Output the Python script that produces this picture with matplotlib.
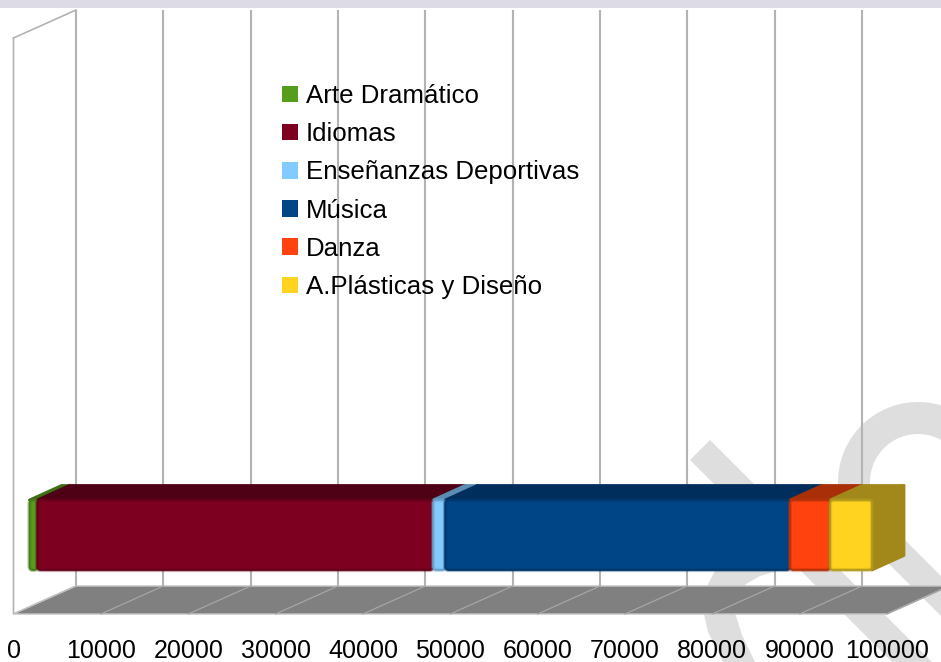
import matplotlib
matplotlib.use("Agg")
import matplotlib.pyplot as plt
from matplotlib.patches import Polygon, Rectangle, Wedge, FancyBboxPatch, Patch
from matplotlib.transforms import Affine2D

plt.rcParams['font.family'] = ['Liberation Sans', 'DejaVu Sans']

categories = ['Arte Dramático', 'Idiomas', 'Enseñanzas Deportivas', 'Música', 'Danza', 'A.Plásticas y Diseño']
values = [900, 45300, 1400, 39450, 4600, 4800]
front_colors = ['#579d1c', '#7e0021', '#83caff', '#004586', '#ff420e', '#ffd320']
edge_colors = ['#467e16', '#65001a', '#69a2cc', '#00376b', '#b5330a', '#b39a1c']
top_colors = ['#3f7014', '#4e0014', '#5b8db3', '#002e5c', '#a92f08', '#a2881a']
ticks = list(range(0, 100001, 10000))

W, H = 941, 662
fig = plt.figure(figsize=(W / 100, H / 100), dpi=100, facecolor='white')

# page furniture drawn in pixel coordinates (y down)
px = Affine2D().scale(1, -1).translate(0, H)
GREY = '#dedede'
fig.add_artist(Rectangle((0, 0), W, 8, transform=px, fc='#dcdbe6', ec='none', zorder=0))
fig.add_artist(Polygon([(690, 460), (710, 440), (960, 690), (920, 690)], transform=px, fc=GREY, ec='none', zorder=0))
fig.add_artist(Polygon([(835, 510), (875, 510), (960, 595), (960, 635)], transform=px, fc=GREY, ec='none', zorder=0))
fig.add_artist(Wedge((918, 482), 80, 150, 360, width=32, transform=px, fc=GREY, ec='none', zorder=0))
fig.add_artist(Polygon([(780, 540), (745, 543), (718, 565), (705, 590), (703, 610), (708, 632), (723, 662),
                        (755, 662), (742, 635), (735, 613), (737, 598), (746, 584), (760, 576), (780, 570)],
                       transform=px, fc=GREY, ec='none', zorder=0))

# axes: x spans the front floor edge, y in pixels above it
FL, FR, FY, TOPY = 13.5, 887.0, 614.0, 10.0
ax = fig.add_axes([FL / W, (H - FY) / H, (FR - FL) / W, (FY - TOPY) / H])
ax.set_xlim(0, 100000)
ax.set_ylim(0, FY - TOPY)
ax.patch.set_visible(False)
for s in ax.spines.values():
    s.set_visible(False)
ax.set_yticks([])
ax.set_xticks(ticks)
ax.set_xticklabels([str(t) for t in ticks], fontsize=18)
ax.tick_params(axis='x', length=0, pad=17.7, labelcolor='black')

PX = (FR - FL) / 100000  # pixels per value unit


def off(dx, dy):
    return ax.transData + Affine2D().translate(dx, dy)


WALL_DX, WALL_DY = 62.5, 28.0
WALL_V = WALL_DX / PX
GRID = '#b3b3b3'
LIGHT = '#c4c4c4'
back = off(WALL_DX, WALL_DY)
wall_h = FY - TOPY - WALL_DY

# floor
ax.add_patch(Polygon([[0, 0], [100000, 0], [100000 + WALL_V, WALL_DY], [WALL_V, WALL_DY]],
                     fc='#808080', ec=LIGHT, lw=1.0, zorder=2, clip_on=False))
# back wall grid
ax.vlines(ticks[:-1], 0, wall_h, transform=back, colors=GRID, lw=1.5, zorder=1, clip_on=False)
# floor grid
for t in ticks[1:]:
    ax.plot([t, t + WALL_V], [0, WALL_DY], color='#a6a6a6', lw=0.9, zorder=3, clip_on=False)
# side wall
ax.plot([0, 0, WALL_V], [wall_h, 0, WALL_DY], color=GRID, lw=1.2, zorder=1, clip_on=False)
ax.plot([0, WALL_V], [wall_h, wall_h + WALL_DY], color=GRID, lw=1.2, zorder=1, clip_on=False)

# bars
BAR_Y, BAR_H = 79.0, 70.0
BAR_DX = 16.0
DEP_X, DEP_Y = 32.0 / PX, 14.5
ROUND = 3.5
front = off(BAR_DX, 0)
left = 0
y_top = BAR_Y + BAR_H / 2
y_bot = BAR_Y - BAR_H / 2
for i, (name, v) in enumerate(zip(categories, values)):
    ax.add_patch(Polygon([(left, y_top), (left + v, y_top), (left + v + DEP_X, y_top + DEP_Y), (left + DEP_X, y_top + DEP_Y)],
                         transform=front, fc=top_colors[i], ec=top_colors[i], lw=2.0, joinstyle='round',
                         zorder=4 + i * 0.1, clip_on=False))
    if i == len(values) - 1:
        ax.add_patch(Polygon([(left + v, y_top), (left + v + DEP_X, y_top + DEP_Y), (left + v + DEP_X, y_bot + DEP_Y), (left + v, y_bot)],
                             transform=front, fc=top_colors[i], ec=top_colors[i], lw=2.0, joinstyle='round',
                             zorder=4.9, clip_on=False))
    box = dict(boxstyle=f'round,pad=0,rounding_size={ROUND / PX}', mutation_aspect=PX, transform=front, clip_on=False)
    ax.add_patch(FancyBboxPatch((left, y_bot), v, BAR_H, fc=front_colors[i], ec=edge_colors[i], lw=1.3,
                                zorder=5 + i * 0.1, **box))
    ax.add_patch(FancyBboxPatch((left, y_bot), v, BAR_H, fc='none', ec=edge_colors[i], lw=3.0, alpha=0.35,
                                zorder=5.05 + i * 0.1, **box))
    left += v

handles = [Patch(fc=c, ec='none', label=n) for c, n in zip(front_colors, categories)]
leg = fig.legend(handles=handles, loc='upper left', bbox_to_anchor=(281.5 / W, 1 - 84 / H),
                 frameon=False, fontsize=18.6, handlelength=0.62, handleheight=0.62, handletextpad=0.31,
                 labelspacing=0.55, borderpad=0, borderaxespad=0)
leg.set_zorder(10)

fig.savefig('out.png', dpi=100)
